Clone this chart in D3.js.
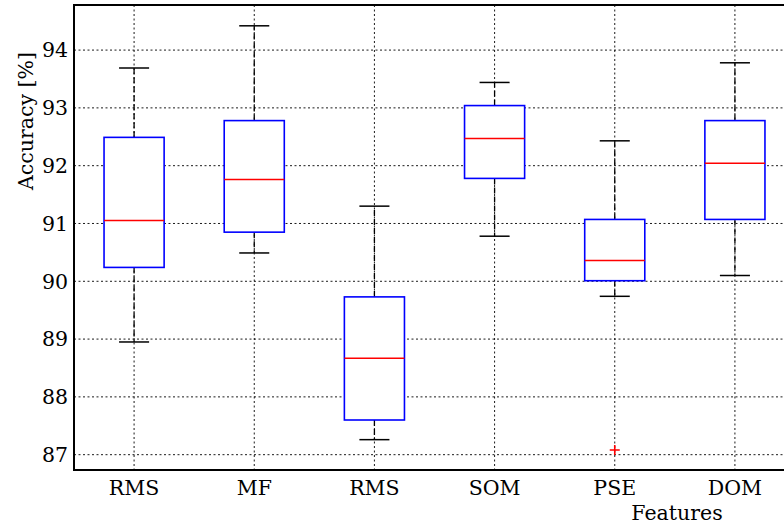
<!DOCTYPE html>
<html>
<head>
<meta charset="utf-8">
<script src="https://cdn.jsdelivr.net/npm/d3@7"></script>
<style>
  body { margin: 0; background: #fff; }
</style>
</head>
<body>
<div id="chart"></div>
<script>
// feature names along the x axis
const features = ['RMS', 'MF', 'RMS', 'SOM', 'PSE', 'DOM'];

// box statistics (accuracy %)
const whiskerLow  = [88.95, 90.49, 87.26, 90.78, 89.74, 90.10];
const q1          = [90.24, 90.85, 87.60, 91.78, 90.01, 91.07];
const medians     = [91.05, 91.76, 88.67, 92.47, 90.36, 92.04];
const q3          = [92.49, 92.78, 89.73, 93.04, 91.07, 92.78];
const whiskerHigh = [93.69, 94.42, 91.30, 93.44, 92.43, 93.78];

// outliers: [box index, value]
const outliers = [[4, 87.08]];

const yTicks = [87, 88, 89, 90, 91, 92, 93, 94];

const W = 784, H = 527;
const plot = { left: 74, top: 5, right: 795, bottom: 470 };
const fontSize = '20.5px';

const svg = d3.select('#chart').append('svg')
    .attr('width', W)
    .attr('height', H)
    .style('font-family', 'DejaVu Serif');

const x = d3.scaleLinear()
    .domain([0.5, features.length + 0.5])
    .range([plot.left, plot.right]);

const y = d3.scaleLinear()
    .domain([86.735, 94.78])
    .range([plot.bottom, plot.top]);

const boxW = 0.5, capW = 0.25;

// grid lines (dotted)
const grid = svg.append('g');
grid.selectAll('.hgrid')
    .data(yTicks).enter()
    .append('line')
    .attr('x1', plot.left).attr('x2', plot.right)
    .attr('y1', d => y(d)).attr('y2', d => y(d))
    .attr('stroke', '#000')
    .attr('stroke-width', 0.9)
    .attr('stroke-dasharray', '2,2.5');

grid.selectAll('.vgrid')
    .data(features).enter()
    .append('line')
    .attr('x1', (d, i) => x(i + 1)).attr('x2', (d, i) => x(i + 1))
    .attr('y1', plot.top).attr('y2', plot.bottom)
    .attr('stroke', '#000')
    .attr('stroke-width', 0.9)
    .attr('stroke-dasharray', '2,2.5');

// boxes
const boxes = svg.selectAll('.box')
    .data(features).enter()
    .append('g')
    .attr('class', 'box');

// whiskers (dashed)
boxes.append('line')
    .attr('x1', (d, i) => x(i + 1)).attr('x2', (d, i) => x(i + 1))
    .attr('y1', (d, i) => y(q3[i])).attr('y2', (d, i) => y(whiskerHigh[i]))
    .attr('stroke', '#000').attr('stroke-width', 1.3)
    .attr('stroke-dasharray', '6,3');
boxes.append('line')
    .attr('x1', (d, i) => x(i + 1)).attr('x2', (d, i) => x(i + 1))
    .attr('y1', (d, i) => y(q1[i])).attr('y2', (d, i) => y(whiskerLow[i]))
    .attr('stroke', '#000').attr('stroke-width', 1.3)
    .attr('stroke-dasharray', '6,3');

// caps
boxes.append('line')
    .attr('x1', (d, i) => x(i + 1 - capW / 2)).attr('x2', (d, i) => x(i + 1 + capW / 2))
    .attr('y1', (d, i) => y(whiskerHigh[i])).attr('y2', (d, i) => y(whiskerHigh[i]))
    .attr('stroke', '#000').attr('stroke-width', 1.5);
boxes.append('line')
    .attr('x1', (d, i) => x(i + 1 - capW / 2)).attr('x2', (d, i) => x(i + 1 + capW / 2))
    .attr('y1', (d, i) => y(whiskerLow[i])).attr('y2', (d, i) => y(whiskerLow[i]))
    .attr('stroke', '#000').attr('stroke-width', 1.5);

// box body
boxes.append('rect')
    .attr('x', (d, i) => x(i + 1 - boxW / 2))
    .attr('width', (d, i) => x(i + 1 + boxW / 2) - x(i + 1 - boxW / 2))
    .attr('y', (d, i) => y(q3[i]))
    .attr('height', (d, i) => y(q1[i]) - y(q3[i]))
    .attr('fill', '#fff')
    .attr('stroke', '#0000ff')
    .attr('stroke-width', 1.6);

// medians
boxes.append('line')
    .attr('x1', (d, i) => x(i + 1 - boxW / 2)).attr('x2', (d, i) => x(i + 1 + boxW / 2))
    .attr('y1', (d, i) => y(medians[i])).attr('y2', (d, i) => y(medians[i]))
    .attr('stroke', '#ff0000').attr('stroke-width', 1.5);

// outliers as red plus markers
svg.selectAll('.flier')
    .data(outliers).enter()
    .append('path')
    .attr('d', d => {
        const cx = x(d[0] + 1), cy = y(d[1]), r = 5;
        return `M${cx - r},${cy}H${cx + r}M${cx},${cy - r}V${cy + r}`;
    })
    .attr('stroke', '#ff0000')
    .attr('stroke-width', 1.6)
    .attr('fill', 'none');

// frame (right spine falls outside the picture)
svg.append('path')
    .attr('d', `M${plot.right},${plot.top}H${plot.left}V${plot.bottom}H${plot.right}`)
    .attr('fill', 'none')
    .attr('stroke', '#000')
    .attr('stroke-width', 2);

// y tick labels
svg.selectAll('.ylab')
    .data(yTicks).enter()
    .append('text')
    .attr('x', 68)
    .attr('y', d => y(d))
    .attr('dy', '0.36em')
    .attr('text-anchor', 'end')
    .style('font-size', fontSize)
    .text(d => d);

// x tick labels
svg.selectAll('.xlab')
    .data(features).enter()
    .append('text')
    .attr('x', (d, i) => x(i + 1))
    .attr('y', 495)
    .attr('text-anchor', 'middle')
    .style('font-size', fontSize)
    .text(d => d);

// axis titles
svg.append('text')
    .attr('x', 677)
    .attr('y', 520)
    .attr('text-anchor', 'middle')
    .style('font-size', fontSize)
    .text('Features');

svg.append('text')
    .attr('transform', 'translate(33,121) rotate(-90)')
    .attr('text-anchor', 'middle')
    .style('font-size', fontSize)
    .text('Accuracy [%]');
</script>
</body>
</html>
